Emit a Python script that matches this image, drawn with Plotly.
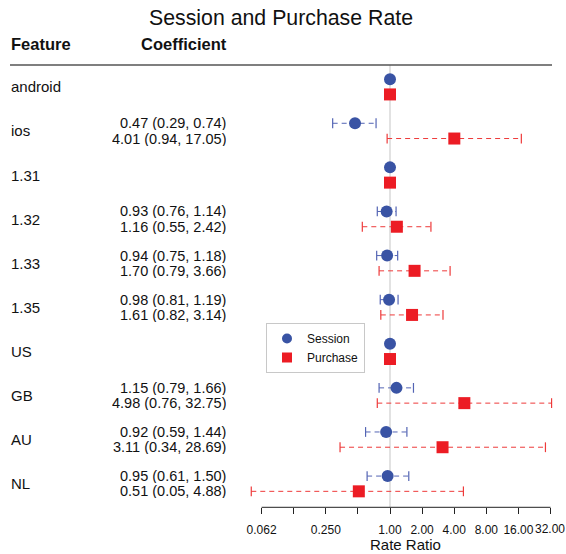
import math
import plotly.graph_objects as go

# ---- data -------------------------------------------------------------
features = ["android", "ios", "1.31", "1.32", "1.33", "1.35", "US", "GB", "AU", "NL"]

session_rr = [1.0, 0.47, 1.0, 0.93, 0.94, 0.98, 1.0, 1.15, 0.92, 0.95]
session_lo = [None, 0.29, None, 0.76, 0.75, 0.81, None, 0.79, 0.59, 0.61]
session_hi = [None, 0.74, None, 1.14, 1.18, 1.19, None, 1.66, 1.44, 1.50]

purchase_rr = [1.0, 4.01, 1.0, 1.16, 1.70, 1.61, 1.0, 4.98, 3.11, 0.51]
purchase_lo = [None, 0.94, None, 0.55, 0.79, 0.82, None, 0.76, 0.34, 0.05]
purchase_hi = [None, 17.05, None, 2.42, 3.66, 3.14, None, 32.75, 28.69, 4.88]

tick_vals = [0.0625, 0.125, 0.25, 0.5, 1, 2, 4, 8, 16, 32]
tick_text = ["0.062", "", "0.250", "", "1.00", "2.00", "4.00", "8.00", "16.00", "32.00"]

# ---- geometry ---------------------------------------------------------
W, H = 566, 554
FONT = "Liberation Sans, Arial, Helvetica, sans-serif"
BLUE = "#3953a4"
RED = "#ec1c24"
BLUE_CI = "#5364b4"
RED_CI = "#ee3a3a"

# log axis: value 1 sits at x=390 px, one doubling = 32.1 px
X_ONE, PX_PER_DOUBLING = 390.0, 32.1
PX_PER_DECADE = PX_PER_DOUBLING / math.log10(2)
X_LEFT, X_RIGHT = 238, 562
x_range = [(X_LEFT - X_ONE) / PX_PER_DECADE, (X_RIGHT - X_ONE) / PX_PER_DECADE]

# rows: feature k centred at 86.8 + 44.1*k px
ROW0, ROW_STEP = 86.8, 44.1
TOP_RULE, AXIS_Y = 65.0, 507.3
y_range = [(AXIS_Y - ROW0) / ROW_STEP, (TOP_RULE - ROW0) / ROW_STEP]
OFF = 0.173  # half gap between the two series within a feature
TICK_LABEL_Y = 529.0


def py(px):
    return 1 - px / H


def px_(px):
    return px / W


y_sess = [k - OFF for k in range(len(features))]
y_purch = [k + OFF for k in range(len(features))]


def ci_segments(lo, hi, ys):
    xs, yy = [], []
    for a, b, y in zip(lo, hi, ys):
        if a is None:
            continue
        xs += [a, b, None]
        yy += [y, y, None]
    return xs, yy


def ci_caps(lo, hi, ys):
    xs, yy = [], []
    for a, b, y in zip(lo, hi, ys):
        if a is None:
            continue
        xs += [a, b]
        yy += [y, y]
    return xs, yy


fig = go.Figure()

for lo, hi, ys, col in [(session_lo, session_hi, y_sess, BLUE_CI),
                        (purchase_lo, purchase_hi, y_purch, RED_CI)]:
    sx, sy = ci_segments(lo, hi, ys)
    fig.add_trace(go.Scatter(x=sx, y=sy, mode="lines", showlegend=False,
                             line=dict(color=col, width=1, dash="5px,4px"),
                             hoverinfo="skip", cliponaxis=False))
    cx, cy = ci_caps(lo, hi, ys)
    fig.add_trace(go.Scatter(x=cx, y=cy, mode="markers", showlegend=False,
                             marker=dict(symbol="line-ns", size=7,
                                         line=dict(color=col, width=1.2)),
                             hoverinfo="skip", cliponaxis=False))

fig.add_trace(go.Scatter(x=session_rr, y=y_sess, mode="markers", name="Session",
                         showlegend=False, cliponaxis=False,
                         marker=dict(symbol="circle", size=12, color=BLUE)))
fig.add_trace(go.Scatter(x=purchase_rr, y=y_purch, mode="markers", name="Purchase",
                         showlegend=False, cliponaxis=False,
                         marker=dict(symbol="square", size=12, color=RED)))

# legend entries
fig.add_trace(go.Scatter(x=[None], y=[None], mode="markers", name="Session",
                         marker=dict(symbol="circle", size=10, color=BLUE)))
fig.add_trace(go.Scatter(x=[None], y=[None], mode="markers", name="Purchase",
                         marker=dict(symbol="square", size=10, color=RED)))

annotations = []
# title and column headers
annotations.append(dict(text="Session and Purchase Rate", x=px_(281), y=py(18),
                        xref="paper", yref="paper", xanchor="center", yanchor="middle",
                        showarrow=False, font=dict(size=21.3, color="#111")))
annotations.append(dict(text="<b>Feature</b>", x=px_(9), y=py(43.5),
                        xref="paper", yref="paper", xanchor="left", yanchor="middle",
                        showarrow=False, font=dict(size=16.5, color="#111")))
annotations.append(dict(text="<b>Coefficient</b>", x=px_(139), y=py(43.5),
                        xref="paper", yref="paper", xanchor="left", yanchor="middle",
                        showarrow=False, font=dict(size=16.5, color="#111")))

for k, name in enumerate(features):
    annotations.append(dict(text=name, x=px_(9), y=k, xref="paper", yref="y",
                            xanchor="left", yanchor="middle", showarrow=False,
                            font=dict(size=15, color="#111")))

for rr, lo, hi, ys in [(session_rr, session_lo, session_hi, y_sess),
                       (purchase_rr, purchase_lo, purchase_hi, y_purch)]:
    for v, a, b, y in zip(rr, lo, hi, ys):
        if a is None:
            continue
        annotations.append(dict(text=f"{v:.2f} ({a:.2f}, {b:.2f})", x=px_(226.5), y=y,
                                xref="paper", yref="y", xanchor="right", yanchor="middle",
                                height=14, borderpad=0,
                                showarrow=False, font=dict(size=14.5, color="#111")))

# the last tick label sits flush with the right edge of the page
axis_tick_text = tick_text[:-1] + [""]
annotations.append(dict(text=tick_text[-1], x=1.0, y=py(TICK_LABEL_Y), xref="paper", yref="paper",
                        xanchor="right", yanchor="middle", borderpad=0, showarrow=False,
                        font=dict(size=12, color="#111")))

annotations.append(dict(text="Rate Ratio", x=px_(405), y=py(544), xref="paper", yref="paper",
                        xanchor="center", yanchor="middle", showarrow=False,
                        font=dict(size=15, color="#111")))

shapes = [
    # top rule under the headers
    dict(type="line", xref="paper", yref="paper", x0=px_(10), x1=px_(552),
         y0=py(TOP_RULE), y1=py(TOP_RULE), line=dict(color="#555", width=1.5)),
    # reference line at rate ratio 1
    dict(type="line", xref="x", yref="paper", x0=1, x1=1,
         y0=py(TOP_RULE), y1=py(AXIS_Y), line=dict(color="#cfcfcf", width=1.2), layer="below"),
    # x axis baseline spanning the tick range
    dict(type="line", xref="x", yref="paper", x0=tick_vals[0], x1=tick_vals[-1],
         y0=py(AXIS_Y), y1=py(AXIS_Y), line=dict(color="#222", width=1)),
]

fig.update_layout(
    width=W, height=H,
    margin=dict(l=0, r=0, t=0, b=0),
    paper_bgcolor="white", plot_bgcolor="white",
    font=dict(family=FONT, color="#111"),
    xaxis=dict(type="log", domain=[px_(X_LEFT), px_(X_RIGHT)], range=x_range,
               tickvals=tick_vals, ticktext=axis_tick_text, ticks="outside", ticklen=6,
               tickwidth=1, tickcolor="#222", showgrid=False, zeroline=False,
               showline=False, tickfont=dict(size=12, color="#111"), tickangle=0,
               ticklabelstandoff=5, fixedrange=True),
    yaxis=dict(domain=[py(AXIS_Y), py(TOP_RULE)], range=y_range, showticklabels=False,
               showgrid=False, zeroline=False, showline=False, ticks="", fixedrange=True),
    legend=dict(x=px_(266), y=py(323), xanchor="left", yanchor="top",
                bgcolor="white", bordercolor="#c8c8c8", borderwidth=1,
                font=dict(size=12, color="#111"), itemwidth=30, tracegroupgap=0),
    annotations=annotations,
    shapes=shapes,
    showlegend=True,
)

fig.write_html("out.html")
